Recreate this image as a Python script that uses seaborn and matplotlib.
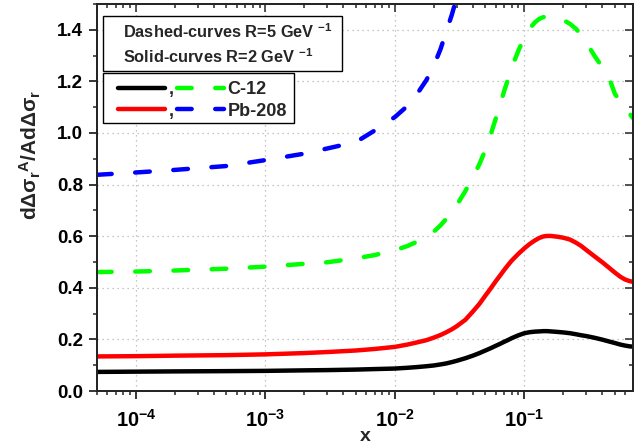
import numpy as np
import pandas as pd
import matplotlib
matplotlib.use("Agg")
import matplotlib.pyplot as plt
import seaborn as sns
from matplotlib.ticker import MultipleLocator, LogLocator, NullFormatter, FormatStrFormatter
from matplotlib.lines import Line2D
from matplotlib.patches import Rectangle

# ---------------- data ----------------
x_vals = [5e-5, 1e-4, 2e-4, 5e-4, 1e-3, 2e-3, 3e-3, 5e-3, 7e-3,
          0.01, 0.0125, 0.015, 0.0175, 0.02, 0.0225, 0.025, 0.0275, 0.03, 0.035,
          0.04, 0.045, 0.05, 0.055, 0.06, 0.065, 0.07, 0.075, 0.08, 0.09,
          0.1, 0.11, 0.12, 0.13, 0.14, 0.15, 0.16, 0.18, 0.2, 0.225,
          0.25, 0.275, 0.3, 0.35, 0.4, 0.45, 0.5, 0.55, 0.6, 0.65, 0.69]
c12_R2 = [0.074, 0.075, 0.076, 0.077, 0.078, 0.080, 0.081, 0.083, 0.085,
          0.087, 0.090, 0.093, 0.096, 0.099, 0.103, 0.107, 0.112, 0.117, 0.127,
          0.137, 0.147, 0.157, 0.166, 0.175, 0.183, 0.191, 0.198, 0.205, 0.216,
          0.224, 0.228, 0.230, 0.231, 0.232, 0.232, 0.231, 0.229, 0.227, 0.224,
          0.220, 0.216, 0.213, 0.206, 0.199, 0.192, 0.186, 0.180, 0.176, 0.173, 0.172]
pb208_R2 = [0.134, 0.135, 0.137, 0.139, 0.142, 0.147, 0.151, 0.157, 0.163,
            0.171, 0.180, 0.189, 0.197, 0.207, 0.217, 0.228, 0.239, 0.251, 0.276,
            0.308, 0.338, 0.370, 0.398, 0.425, 0.448, 0.470, 0.489, 0.506, 0.532,
            0.553, 0.570, 0.583, 0.593, 0.599, 0.601, 0.601, 0.598, 0.594, 0.587,
            0.575, 0.562, 0.547, 0.521, 0.499, 0.478, 0.459, 0.443, 0.432, 0.426, 0.423]
c12_R5 = [0.461, 0.463, 0.467, 0.474, 0.482, 0.493, 0.499, 0.514, 0.527,
          0.546, 0.562, 0.580, 0.598, 0.618, 0.642, 0.668, 0.693, 0.720, 0.775,
          0.828, 0.880, 0.935, 0.995, 1.055, 1.110, 1.165, 1.210, 1.255, 1.320,
          1.370, 1.405, 1.428, 1.442, 1.449, 1.452, 1.452, 1.447, 1.438, 1.423,
          1.404, 1.380, 1.352, 1.297, 1.255, 1.215, 1.152, 1.122, 1.097, 1.075, 1.058]
x_pb_R5 = [5e-5, 1e-4, 2e-4, 5e-4, 1e-3, 2e-3, 3e-3, 5e-3, 7e-3,
           0.01, 0.0125, 0.015, 0.0175, 0.02, 0.0225, 0.025, 0.0275, 0.03, 0.035]
pb208_R5 = [0.838, 0.847, 0.857, 0.872, 0.895, 0.920, 0.940, 0.965, 1.010,
            1.062, 1.105, 1.155, 1.205, 1.262, 1.325, 1.395, 1.458, 1.525, 1.640]

legend_labels = [",", ",", "C-12", "Pb-208"]
box_lines = ["Dashed-curves R=5 GeV $^{-1}$", "Solid-curves R=2 GeV $^{-1}$"]

# ---------------- style ----------------
sns.set_style("white")
plt.rcParams["font.family"] = ["Liberation Sans", "DejaVu Sans"]
plt.rcParams["font.weight"] = "bold"
plt.rcParams["mathtext.fontset"] = "custom"
plt.rcParams["mathtext.rm"] = "Liberation Sans:bold"
plt.rcParams["mathtext.it"] = "Liberation Sans:bold"
plt.rcParams["mathtext.bf"] = "Liberation Sans:bold"
plt.rcParams["mathtext.default"] = "regular"

W, H = 637, 445
fig = plt.figure(figsize=(W / 100, H / 100), dpi=100)
L, R, T, B = 97, 633, 4, 391
ax = fig.add_axes([L / W, (H - B) / H, (R - L) / W, (B - T) / H])

LW = 3.2
dash = (0, (3.3, 5.3))
GREEN = "#00ff00"
BLUE = "#0000ff"
RED = "#ff0000"

sns.lineplot(x=x_vals, y=c12_R2, ax=ax, color="black", lw=LW, sort=False,
             estimator=None, solid_capstyle="round", solid_joinstyle="round", zorder=3)
sns.lineplot(x=x_vals, y=pb208_R2, ax=ax, color=RED, lw=LW, sort=False,
             estimator=None, solid_capstyle="round", solid_joinstyle="round", zorder=3)
sns.lineplot(x=x_vals, y=c12_R5, ax=ax, color=GREEN, lw=LW, sort=False,
             estimator=None, linestyle=dash, dash_capstyle="round", zorder=3)
sns.lineplot(x=x_pb_R5, y=pb208_R5, ax=ax, color=BLUE, lw=LW, sort=False,
             estimator=None, linestyle=dash, dash_capstyle="round", zorder=3)

ax.set_xscale("log")
ax.set_xlim(5e-5, 0.69)
ax.set_ylim(0, 1.5)

ax.yaxis.set_major_locator(MultipleLocator(0.2))
ax.yaxis.set_minor_locator(MultipleLocator(0.1))
ax.yaxis.set_major_formatter(FormatStrFormatter("%.1f"))
ax.xaxis.set_major_locator(LogLocator(base=10, numticks=20))
ax.xaxis.set_minor_locator(LogLocator(base=10, subs=np.arange(2, 10), numticks=20))
ax.xaxis.set_minor_formatter(NullFormatter())

ax.grid(True, which="major", color="#b4b4b4", linestyle=(0, (1, 3)), lw=0.9, zorder=0)

for s in ax.spines.values():
    s.set_linewidth(1.2)
    s.set_color("black")

ax.tick_params(which="major", direction="out", length=6, width=1.1,
               colors="black", top=False, right=False)
ax.tick_params(which="minor", direction="out", length=3, width=1.1, top=False, right=False)
ax.tick_params(axis="y", which="major", pad=4, labelsize=13.5)
ax.tick_params(axis="x", which="major", pad=7, labelsize=14.5)

# mirrored inward ticks on top and right
axt = ax.twiny()
axt.set_xscale("log")
axt.set_xlim(ax.get_xlim())
axt.xaxis.set_major_locator(LogLocator(base=10, numticks=20))
axt.xaxis.set_minor_locator(LogLocator(base=10, subs=np.arange(2, 10), numticks=20))
axt.tick_params(axis="x", which="major", direction="in", length=6, width=1.1, labeltop=False)
axt.tick_params(axis="x", which="minor", direction="in", length=3, width=1.1)
axr = ax.twinx()
axr.set_ylim(ax.get_ylim())
axr.yaxis.set_major_locator(MultipleLocator(0.2))
axr.yaxis.set_minor_locator(MultipleLocator(0.1))
axr.tick_params(axis="y", which="major", direction="in", length=6, width=1.1, labelright=False)
axr.tick_params(axis="y", which="minor", direction="in", length=3, width=1.1)
for a in (axt, axr):
    for s in a.spines.values():
        s.set_linewidth(1.2)
    a.grid(False)

ax.set_xlabel("x", fontsize=14, fontweight="bold", labelpad=-2)
ax.set_ylabel("dΔσ$_{r}{}^{A}$/AdΔσ$_{r}$", fontsize=15, fontweight="bold")
ax.yaxis.set_label_coords((43 - L) / (R - L), (B - 155) / (B - T))

# ---------------- boxes ----------------
def px2ax(px, py):
    return (px - L) / (R - L), (B - py) / (B - T)

x0, y0 = px2ax(103.3, 70.7)
x1, y1 = px2ax(341.7, 16)
ax.add_patch(Rectangle((x0, y0), x1 - x0, y1 - y0, transform=ax.transAxes,
                       facecolor="white", edgecolor="black", lw=1.0, zorder=5))
tx, ty1 = px2ax(123, 38)
_, ty2 = px2ax(123, 63.3)
ax.text(tx, ty1, box_lines[0], transform=ax.transAxes, fontsize=11.8,
        fontweight="bold", va="baseline", ha="left", zorder=6)
ax.text(tx, ty2, box_lines[1], transform=ax.transAxes, fontsize=11.8,
        fontweight="bold", va="baseline", ha="left", zorder=6)

x0, y0 = px2ax(103.3, 123.3)
x1, y1 = px2ax(294, 72.7)
ax.add_patch(Rectangle((x0, y0), x1 - x0, y1 - y0, transform=ax.transAxes,
                       facecolor="white", edgecolor="black", lw=1.0, zorder=5))

handles = [
    Line2D([], [], color="black", lw=LW),
    Line2D([], [], color=RED, lw=LW),
    Line2D([], [], color=GREEN, lw=LW, linestyle=dash, dash_capstyle="round"),
    Line2D([], [], color=BLUE, lw=LW, linestyle=dash, dash_capstyle="round"),
]
lx, ly = px2ax(118, 100.5)
leg = ax.legend(handles, legend_labels, ncol=2, loc="center left",
                bbox_to_anchor=(lx, ly), frameon=False, fontsize=13,
                handlelength=2.6, handletextpad=0.2, columnspacing=0.2,
                labelspacing=0.25, borderpad=0, borderaxespad=0)
leg.set_zorder(7)
for t in leg.get_texts():
    t.set_fontweight("bold")

fig.savefig("out.png", dpi=100)
